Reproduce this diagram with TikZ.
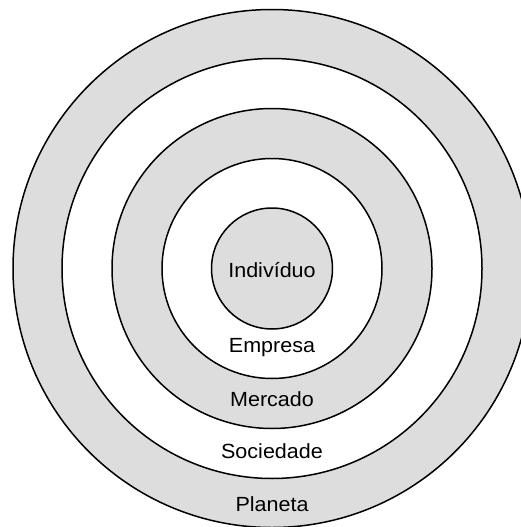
\documentclass[tikz,border=0pt]{standalone}
\usepackage{fontspec}
\setmainfont{Liberation Sans}
\definecolor{ringgray}{RGB}{221,221,221}
\begin{document}
\begin{tikzpicture}[x=1pt,y=-1pt,
  ring/.style={draw=black,line width=1.5pt},
  lbl/.style={font=\fontsize{20.5}{24}\selectfont,anchor=base,inner sep=0pt,xscale=1.05,transform shape}]
\useasboundingbox (0,0) rectangle (521,527);
\clip (0,0) rectangle (521,527);
\coordinate (c) at (272,268.5);
\fill[white] (0,0) rectangle (521,527);
\draw[ring,fill=ringgray] (c) circle (259pt);
\draw[ring,fill=white] (c) circle (210pt);
\draw[ring,fill=ringgray] (c) circle (160pt);
\draw[ring,fill=white] (c) circle (110pt);
\draw[ring,fill=ringgray] (c) circle (60.5pt);
\node[lbl] (ind) at (272,277) {Indivíduo};
\node[lbl] (emp) at (272,352) {Empresa};
\node[lbl] (mer) at (272,406) {Mercado};
\node[lbl] (soc) at (272,458) {Sociedade};
\node[lbl] (pla) at (272,511) {Planeta};
\end{tikzpicture}
\end{document}
